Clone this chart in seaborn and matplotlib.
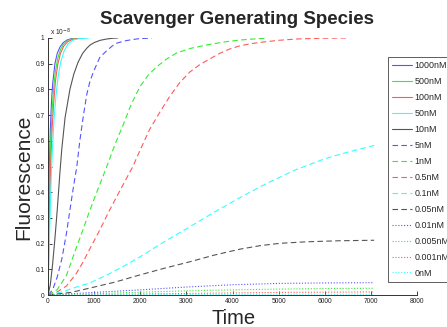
import matplotlib
matplotlib.use("Agg")
import matplotlib.pyplot as plt
import seaborn as sns
from matplotlib.ticker import FixedLocator, FuncFormatter

sns.set_theme(style="white")
plt.rcParams["font.family"] = ["Liberation Sans", "DejaVu Sans"]

# ---------------- data (fluorescence in units of 1e-8) ----------------
labels = ["1000nM", "500nM", "100nM", "50nM", "10nM", "5nM", "1nM", "0.5nM",
          "0.1nM", "0.05nM", "0.01nM", "0.005nM", "0.001nM", "0nM"]

t_1000 = [0, 15, 30, 50, 75, 100, 150, 200, 260, 330, 420, 520, 650]
y_1000 = [0, 0.30, 0.50, 0.64, 0.75, 0.82, 0.90, 0.94, 0.965, 0.982, 0.993, 0.998, 1.0]

t_500 = [0, 20, 40, 60, 90, 120, 160, 210, 270, 340, 430, 550, 720]
y_500 = [0, 0.28, 0.48, 0.60, 0.72, 0.80, 0.87, 0.92, 0.955, 0.977, 0.991, 0.998, 1.0]

t_100 = [0, 20, 40, 60, 90, 120, 160, 210, 270, 340, 430, 550, 680, 800]
y_100 = [0, 0.20, 0.38, 0.52, 0.65, 0.74, 0.83, 0.895, 0.94, 0.968, 0.986, 0.996, 0.999, 1.0]

t_50 = [0, 25, 50, 75, 100, 130, 170, 220, 280, 350, 440, 560, 700, 880]
y_50 = [0, 0.18, 0.34, 0.48, 0.58, 0.68, 0.77, 0.85, 0.91, 0.95, 0.978, 0.993, 0.998, 1.0]

t_10 = [0, 50, 100, 150, 200, 260, 300, 370, 475, 560, 650, 750, 840, 908, 1000,
        1130, 1270, 1400, 1510]
y_10 = [0, 0.04, 0.12, 0.22, 0.33, 0.48, 0.57, 0.69, 0.80, 0.86, 0.905, 0.94, 0.96,
        0.972, 0.982, 0.991, 0.996, 0.999, 1.0]

t_5 = [0, 100, 200, 300, 400, 500, 560, 625, 690, 765, 840, 908, 980, 1050, 1125,
       1270, 1400, 1490, 1700, 1950, 2250]
y_5 = [0, 0.02, 0.07, 0.14, 0.24, 0.36, 0.43, 0.50, 0.60, 0.695, 0.78, 0.83, 0.866,
       0.895, 0.925, 0.95, 0.97, 0.98, 0.99, 0.997, 1.0]

t_1 = [0, 200, 400, 585, 750, 908, 1100, 1275, 1450, 1625, 1800, 1990, 2170, 2350,
       2570, 2790, 3100, 3440, 3800, 4150, 4450, 4730]
y_1 = [0, 0.021, 0.076, 0.17, 0.25, 0.33, 0.42, 0.50, 0.585, 0.66, 0.74, 0.81, 0.855,
       0.887, 0.918, 0.942, 0.96, 0.973, 0.984, 0.992, 0.996, 0.999]

t_05 = [0, 200, 400, 600, 750, 908, 1100, 1340, 1600, 1840, 2000, 2200, 2420, 2640,
        2850, 3070, 3280, 3500, 3720, 3935, 4150, 4400, 4650, 5000, 5380, 5900, 6460]
y_05 = [0, 0.012, 0.035, 0.08, 0.125, 0.18, 0.245, 0.332, 0.42, 0.50, 0.565, 0.643,
        0.71, 0.773, 0.825, 0.867, 0.895, 0.918, 0.94, 0.957, 0.969, 0.978, 0.984,
        0.991, 0.996, 0.999, 1.0]

t_01 = [0, 300, 600, 908, 1300, 1650, 1990, 2500, 3070, 3600, 4150, 4750, 5380,
        6000, 6500, 7070]
y_01 = [0, 0.012, 0.03, 0.047, 0.08, 0.113, 0.148, 0.205, 0.265, 0.322, 0.378,
        0.435, 0.488, 0.53, 0.556, 0.582]

t_005 = [0, 500, 908, 1450, 1990, 2500, 3070, 3600, 4150, 4600, 5020, 5600, 6300, 7070]
y_005 = [0, 0.01, 0.027, 0.05, 0.078, 0.103, 0.129, 0.155, 0.178, 0.192, 0.201,
         0.207, 0.211, 0.213]

t_low = [0, 1000, 2000, 3000, 4000, 5000, 6000, 7070]
y_001 = [0, 0.010, 0.020, 0.031, 0.040, 0.045, 0.047, 0.048]
y_0005 = [0, 0.005, 0.011, 0.016, 0.020, 0.023, 0.025, 0.026]
y_0001 = [0, 0.002, 0.004, 0.006, 0.008, 0.010, 0.011, 0.012]
y_0 = [0, 0.001, 0.001, 0.002, 0.002, 0.003, 0.003, 0.003]

x_ticks = [0, 1000, 2000, 3000, 4000, 5000, 6000, 7000, 8000]
y_ticks = [0, 0.1, 0.2, 0.3, 0.4, 0.5, 0.6, 0.7, 0.8, 0.9, 1.0]

series = [
    (t_1000, y_1000), (t_500, y_500), (t_100, y_100), (t_50, y_50), (t_10, y_10),
    (t_5, y_5), (t_1, y_1), (t_05, y_05), (t_01, y_01), (t_005, y_005),
    (t_low, y_001), (t_low, y_0005), (t_low, y_0001), (t_low, y_0),
]

base_colors = ["#5555ff", "#33ee33", "#ff5a5a", "#33ffff", "#555555"]
styles = ["-", (0, (5, 3)), (0, (1, 1.6))]

# ---------------- figure ----------------
fig = plt.figure(figsize=(4.47, 3.27), dpi=100)
ax = fig.add_axes([48 / 447, 32 / 327, 369 / 447, 257 / 327])

handles = []
for i, ((tx, ty), lab) in enumerate(zip(series, labels)):
    color = base_colors[i % 5]
    ls = styles[i // 5]
    sns.lineplot(x=tx, y=ty, ax=ax, color=color, linestyle=ls, linewidth=0.8,
                 estimator=None, sort=False, label=lab, legend=False)
    handles.append(ax.lines[-1])

ax.set_xlim(0, 8000)
ax.set_ylim(0, 1.0)
ax.xaxis.set_major_locator(FixedLocator(x_ticks))
ax.yaxis.set_major_locator(FixedLocator(y_ticks))
ax.yaxis.set_major_formatter(FuncFormatter(lambda v, p: "%g" % round(v, 2)))
ax.xaxis.set_major_formatter(FuncFormatter(lambda v, p: "%d" % v))
ax.tick_params(axis="both", direction="in", length=3, width=0.6, labelsize=4.8,
               colors="#222222", pad=2.5, bottom=True, left=True)
for s in ["top", "right"]:
    ax.spines[s].set_visible(False)
for s in ["left", "bottom"]:
    ax.spines[s].set_color("#333333")
    ax.spines[s].set_linewidth(0.7)
ax.set_facecolor("white")
ax.set_xlabel("")
ax.set_ylabel("")

fig.text(50 / 447, 1 - 35 / 327, r"x 10$^{-8}$", fontsize=4.8, ha="left",
         va="baseline", color="#222222")

fig.text(237 / 447, 1 - 19 / 327, "Scavenger Generating Species", fontsize=13.5,
         fontweight="bold", ha="center", va="center")
fig.text(234 / 447, 1 - 318 / 327, "Time", fontsize=14.5, ha="center", va="center")
fig.text(24 / 447, 1 - 177 / 327, "Fluorescence", fontsize=15, ha="center",
         va="center", rotation=90)

leg = ax.legend(handles, labels, loc="upper left",
                bbox_to_anchor=(388 / 447, 1 - 57 / 327),
                bbox_transform=fig.transFigure, fontsize=6.4, frameon=True,
                fancybox=False, edgecolor="#333333", handlelength=2.2,
                handletextpad=0.3, labelspacing=0.78, borderpad=0.5,
                borderaxespad=0)
leg.get_frame().set_linewidth(0.7)

fig.savefig("out.png", dpi=100, facecolor="white")
